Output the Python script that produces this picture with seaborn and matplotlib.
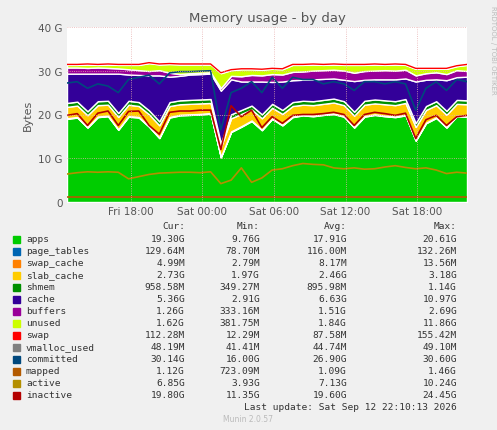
import numpy as np
import pandas as pd
import matplotlib
matplotlib.use("Agg")
import matplotlib.pyplot as plt
import matplotlib.dates as mdates
import seaborn as sns

# values in GB, ~hourly samples (Fri 12:40 -> Sat 22:10)
apps = [19.0, 19.3, 17.0, 19.4, 19.6, 16.5, 19.5, 19.3, 17.2, 14.6, 19.3, 19.8, 19.9, 20.0, 20.2, 10.2,
        16.0, 17.2, 18.5, 16.4, 19.0, 17.5, 19.4, 19.8, 19.6, 19.9, 20.1, 19.5, 17.0, 19.5, 19.9, 19.6,
        19.4, 19.8, 14.0, 18.0, 19.2, 17.0, 19.6, 19.5]
page_tables = [0.13] * 40
swap_cache = [0.01] * 40
slab_cache = [2.6, 2.6, 2.7, 2.6, 2.5, 2.8, 2.6, 2.5, 2.7, 2.8, 2.5, 2.4, 2.4, 2.4, 2.3, 2.2,
              3.0, 2.8, 2.5, 2.6, 2.4, 2.5, 2.4, 2.3, 2.4, 2.4, 2.5, 2.5, 2.6, 2.6, 2.5, 2.6,
              2.6, 2.7, 3.0, 2.9, 2.8, 2.8, 2.7, 2.7]
shmem = [0.9] * 40
cache = [6.7, 6.4, 8.6, 6.3, 6.2, 9.0, 6.0, 6.2, 8.0, 10.5, 5.8, 5.6, 5.8, 5.8, 5.8, 12.0,
         8.0, 6.5, 5.5, 7.5, 5.0, 6.5, 5.0, 4.8, 5.0, 4.8, 4.6, 4.9, 7.0, 4.8, 4.6, 4.8,
         5.0, 4.7, 9.5, 6.0, 5.0, 7.0, 5.2, 5.4]
buffers = [1.4, 1.4, 1.3, 1.4, 1.3, 1.2, 1.2, 1.1, 1.0, 1.2, 0.9, 0.4, 0.3, 0.3, 0.3, 0.6,
           0.8, 1.2, 1.5, 1.4, 1.8, 1.6, 1.9, 1.9, 2.0, 2.0, 2.0, 2.1, 1.9, 2.0, 2.0, 2.1,
           2.0, 2.0, 1.4, 1.5, 1.6, 1.4, 1.6, 1.3]
unused = [0.6, 0.6, 0.8, 0.6, 0.8, 0.8, 1.0, 1.2, 1.8, 1.3, 2.0, 2.2, 2.0, 1.9, 1.8, 3.4,
          1.3, 1.6, 1.3, 1.3, 1.2, 1.2, 1.6, 1.5, 1.4, 1.2, 1.2, 1.3, 1.8, 1.4, 1.4, 1.2,
          1.4, 1.1, 1.5, 1.0, 0.8, 1.2, 0.9, 1.4]
swap = [0.11] * 40
committed = [27.2, 27.5, 26.0, 27.0, 26.5, 25.0, 28.0, 28.5, 29.0, 27.0, 29.5, 29.8, 29.8, 29.9, 30.0, 16.5,
             25.0, 26.0, 27.5, 25.0, 28.5, 26.0, 28.5, 28.0, 28.0, 27.0, 27.5, 27.0, 25.5, 27.5, 27.5, 27.0,
             27.5, 27.0, 21.0, 26.0, 27.5, 25.5, 28.0, 27.5]
mapped = [1.1] * 40
active = [6.4, 6.7, 6.9, 6.8, 6.9, 6.8, 5.3, 5.8, 6.3, 6.6, 6.7, 6.8, 6.8, 6.7, 6.9, 4.2,
          5.0, 7.8, 4.5, 5.5, 7.3, 7.6, 8.3, 8.8, 8.6, 8.5, 7.8, 7.6, 7.8, 7.5, 7.6, 8.0,
          8.3, 7.9, 7.6, 7.8, 7.3, 6.5, 6.8, 6.6]
inactive = [19.8, 20.2, 17.5, 20.3, 20.8, 17.5, 20.7, 20.8, 17.5, 15.5, 20.5, 20.8, 20.8, 21.0, 21.0, 12.0,
            22.0, 19.5, 21.0, 17.0, 19.5, 18.0, 19.8, 20.0, 20.0, 20.2, 20.5, 20.0, 17.5, 20.0, 20.5, 20.2,
            19.8, 20.3, 14.5, 18.8, 19.8, 17.5, 19.5, 19.8]

names = ["apps", "page_tables", "swap_cache", "slab_cache", "shmem", "cache", "buffers", "unused",
         "swap", "vmalloc_used", "committed", "mapped", "active", "inactive"]
colors = ["#00CC00", "#0066B3", "#FF8000", "#FFCC00", "#008F00", "#330099", "#990099", "#CCFF00",
          "#FF0000", "#808080", "#00487D", "#B35A00", "#B38F00", "#B30000"]
cur = ["19.30G", "129.64M", "4.99M", "2.73G", "958.58M", "5.36G", "1.26G", "1.62G", "112.28M", "48.19M", "30.14G", "1.12G", "6.85G", "19.80G"]
mins = ["9.76G", "78.70M", "2.79M", "1.97G", "349.27M", "2.91G", "333.16M", "381.75M", "12.29M", "41.41M", "16.00G", "723.09M", "3.93G", "11.35G"]
avgs = ["17.91G", "116.00M", "8.17M", "2.46G", "895.98M", "6.63G", "1.51G", "1.84G", "87.58M", "44.74M", "26.90G", "1.09G", "7.13G", "19.60G"]
maxs = ["20.61G", "132.26M", "13.56M", "3.18G", "1.14G", "10.97G", "2.69G", "11.86G", "155.42M", "49.10M", "30.60G", "1.46G", "10.24G", "24.45G"]

times = pd.date_range("2026-09-11 12:40", "2026-09-12 22:10", periods=40)

sns.set_style("white")
plt.rcParams['font.family'] = ['DejaVu Sans']
fig = plt.figure(figsize=(4.97, 4.31), dpi=100, facecolor="#F0F0F0")
ax = fig.add_axes([67 / 497, 1 - 203 / 431, 400 / 497, 175 / 431])
ax.set_facecolor("white")

stack = [apps, page_tables, swap_cache, slab_cache, shmem, cache, buffers, unused, swap]
ax.stackplot(times, *stack, colors=colors[:9])
top = np.sum(stack, axis=0)
ax.plot(times, top, color="#FF0000", lw=1)
for vals, c in [(committed, colors[10]), (mapped, colors[11]), (active, colors[12]), (inactive, colors[13])]:
    df = pd.DataFrame({"t": times, "v": vals})
    sns.lineplot(data=df, x="t", y="v", ax=ax, color=c, lw=1.2)

ax.set_xlim(times[0], times[-1])
ax.set_ylim(0, 40)
ax.set_yticks([0, 10, 20, 30, 40])
ax.set_yticklabels(["0", "10 G", "20 G", "30 G", "40 G"])
ax.xaxis.set_major_locator(mdates.HourLocator(byhour=[0, 6, 12, 18]))
ax.xaxis.set_major_formatter(mdates.DateFormatter("%a %H:%M"))
ax.grid(True, color="#E8B0B0", ls=":", lw=0.6)
ax.set_axisbelow(False)
ax.tick_params(labelsize=7.5, colors="#555555", length=0, pad=3)
for s in ax.spines.values():
    s.set_visible(False)
ax.set_xlabel("")
ax.set_ylabel("Bytes", fontsize=8, color="#555555")
ax.set_title("Memory usage - by day", fontsize=9.5, color="#555555", pad=4)
fig.text(0.985, 0.985, "RRDTOOL / TOBI OETIKER", rotation=270, fontsize=5, color="#BBBBBB", va="top")

mono = "DejaVu Sans Mono"
fs = 6.8
def fy(py):
    return 1 - py / 431
fig.text(185 / 497, fy(227), "Cur:", ha="right", va="center", family=mono, fontsize=fs, color="#333333")
fig.text(260 / 497, fy(227), "Min:", ha="right", va="center", family=mono, fontsize=fs, color="#333333")
fig.text(347 / 497, fy(227), "Avg:", ha="right", va="center", family=mono, fontsize=fs, color="#333333")
fig.text(457 / 497, fy(227), "Max:", ha="right", va="center", family=mono, fontsize=fs, color="#333333")
for i, n in enumerate(names):
    y = fy(240 + i * 12.0)
    fig.patches.append(plt.Rectangle((13 / 497, y - 3.5 / 431), 7 / 497, 7 / 431, color=colors[i], transform=fig.transFigure))
    fig.text(26 / 497, y, n, va="center", family=mono, fontsize=fs, color="#333333")
    fig.text(185 / 497, y, cur[i], ha="right", va="center", family=mono, fontsize=fs, color="#333333")
    fig.text(260 / 497, y, mins[i], ha="right", va="center", family=mono, fontsize=fs, color="#333333")
    fig.text(347 / 497, y, avgs[i], ha="right", va="center", family=mono, fontsize=fs, color="#333333")
    fig.text(457 / 497, y, maxs[i], ha="right", va="center", family=mono, fontsize=fs, color="#333333")
fig.text(457 / 497, fy(408), "Last update: Sat Sep 12 22:10:13 2026", ha="right", va="center", family=mono, fontsize=fs, color="#333333")
fig.text(248 / 497, fy(420), "Munin 2.0.57", ha="center", va="center", fontsize=5.5, color="#BBBBBB")

fig.savefig("out.png", dpi=100, facecolor=fig.get_facecolor())
